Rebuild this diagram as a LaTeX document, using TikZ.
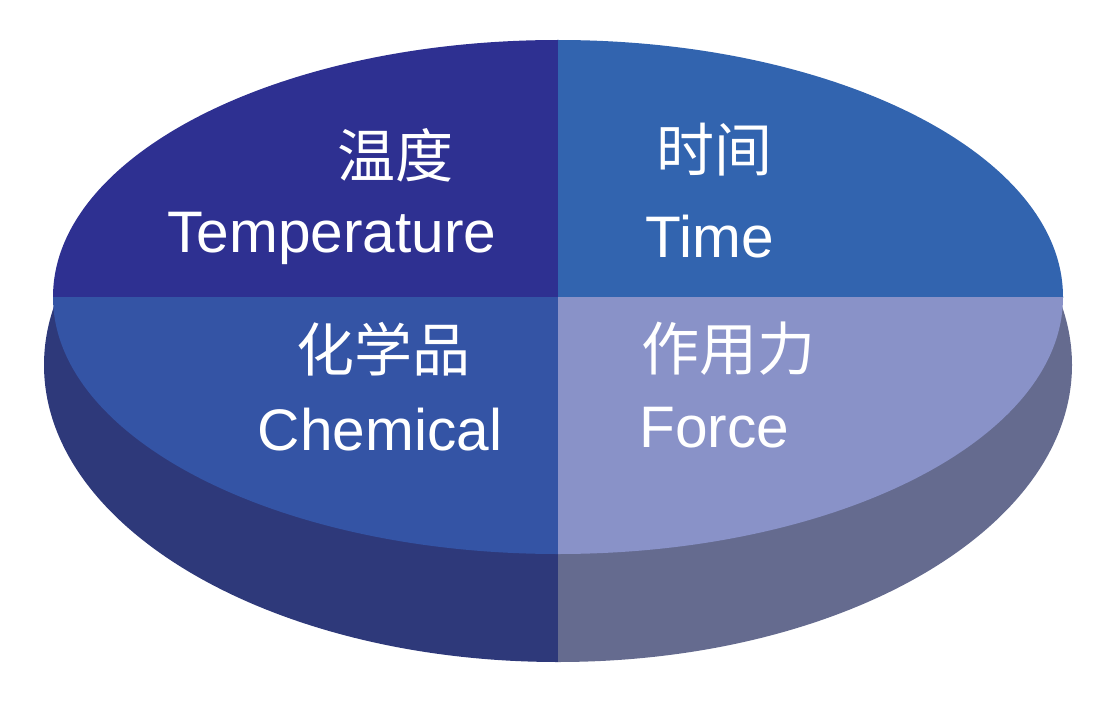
\documentclass[tikz,border=0pt]{standalone}
\usepackage{fontspec}
\setmainfont{Liberation Sans}
\newfontfamily\cjk{Noto Sans CJK SC}
\definecolor{tempcol}{HTML}{2E3091}
\definecolor{timecol}{HTML}{3264AF}
\definecolor{chemcol}{HTML}{3454A5}
\definecolor{forcecol}{HTML}{8992C8}
\definecolor{sideleft}{HTML}{2E397A}
\definecolor{sideright}{HTML}{656B8F}

\begin{document}
\begin{tikzpicture}[x=0.5pt,y=-0.5pt,
  en/.style={text=white,inner sep=0pt,anchor=base,font=\fontsize{29.3}{30}\selectfont},
  zh/.style={text=white,inner sep=0pt,font=\cjk\fontsize{29}{30}\selectfont}]
  \useasboundingbox (0,0) rectangle (1114,706);
  % side of the disc
  \begin{scope}
    \clip (0,0) rectangle (558,706);
    \fill[sideleft] (558,365) ellipse [x radius=514, y radius=297];
  \end{scope}
  \begin{scope}
    \clip (558,0) rectangle (1114,706);
    \fill[sideright] (558,365) ellipse [x radius=514, y radius=297];
  \end{scope}
  % top face
  \begin{scope}
    \clip (558,297) ellipse [x radius=505, y radius=257];
    \foreach \x/\y/\c in {0/0/tempcol, 558/0/timecol, 0/297/chemcol, 558/297/forcecol}
      \fill[\c] (\x,\y) rectangle ++(558,300);
  \end{scope}
  \node[zh] (wendu) at (395,155) {温度};
  \node[en] (temp) at (332,252) {Temperature};
  \node[zh] (shijian) at (714,150) {时间};
  \node[en] (time) at (710,257) {Time};
  \node[zh] (huaxue) at (383,349) {化学品};
  \node[en] (chem) at (380,450) {Chemical};
  \node[zh] (zuoyong) at (728,349) {作用力};
  \node[en] (force) at (714.5,447) {Force};
\end{tikzpicture}
\end{document}
